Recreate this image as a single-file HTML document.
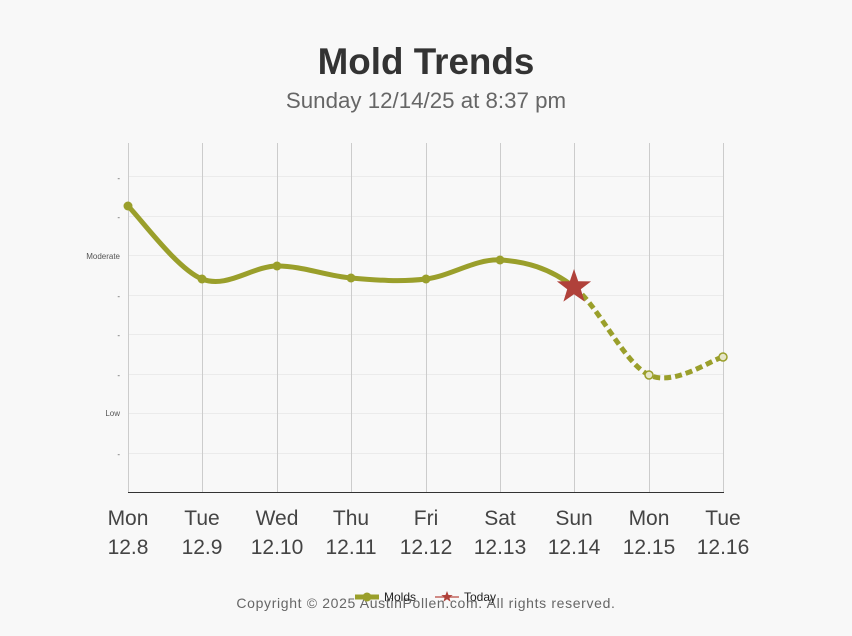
<!DOCTYPE html>
<html><head><meta charset="utf-8"><style>
html,body{margin:0;padding:0;background:#f8f8f8;}
body{width:852px;height:636px;overflow:hidden;font-family:"Liberation Sans",sans-serif;}
</style></head><body>
<svg width="852" height="636" xmlns="http://www.w3.org/2000/svg" style="position:absolute;left:0;top:0">
<rect width="852" height="636" fill="#f8f8f8"/>
<text x="426" y="74" text-anchor="middle" font-family="Liberation Sans" font-weight="bold" font-size="36.8" fill="#333">Mold Trends</text>
<text x="426" y="108" text-anchor="middle" font-family="Liberation Sans" font-size="22.3" fill="#666">Sunday 12/14/25 at 8:37 pm</text>
<g stroke="#ebebeb" stroke-width="1">
<line x1="128" x2="723" y1="176.5" y2="176.5"/><line x1="128" x2="723" y1="216.5" y2="216.5"/>
<line x1="128" x2="723" y1="255.5" y2="255.5"/><line x1="128" x2="723" y1="295.5" y2="295.5"/>
<line x1="128" x2="723" y1="334.5" y2="334.5"/><line x1="128" x2="723" y1="374.5" y2="374.5"/>
<line x1="128" x2="723" y1="413.5" y2="413.5"/><line x1="128" x2="723" y1="453.5" y2="453.5"/>
</g>
<g stroke="#ccc" stroke-width="1">
<line x1="128.5" x2="128.5" y1="143" y2="492"/><line x1="202.5" x2="202.5" y1="143" y2="492"/>
<line x1="277.5" x2="277.5" y1="143" y2="492"/><line x1="351.5" x2="351.5" y1="143" y2="492"/>
<line x1="426.5" x2="426.5" y1="143" y2="492"/><line x1="500.5" x2="500.5" y1="143" y2="492"/>
<line x1="574.5" x2="574.5" y1="143" y2="492"/><line x1="649.5" x2="649.5" y1="143" y2="492"/>
<line x1="723.5" x2="723.5" y1="143" y2="492"/>
</g>
<line x1="128" x2="724" y1="492.5" y2="492.5" stroke="#333" stroke-width="1"/>
<g font-family="Liberation Sans" font-size="8" fill="#555" text-anchor="end">
<text x="120" y="181">-</text><text x="120" y="220">-</text><text x="120" y="259">Moderate</text>
<text x="120" y="299">-</text><text x="120" y="338">-</text><text x="120" y="378">-</text>
<text x="120" y="416">Low</text><text x="120" y="457">-</text>
</g>
<g font-family="Liberation Sans" font-size="21" fill="#444" text-anchor="middle">
<text x="128" y="525">Mon</text><text x="128" y="554">12.8</text>
<text x="202" y="525">Tue</text><text x="202" y="554">12.9</text>
<text x="277" y="525">Wed</text><text x="277" y="554">12.10</text>
<text x="351" y="525">Thu</text><text x="351" y="554">12.11</text>
<text x="426" y="525">Fri</text><text x="426" y="554">12.12</text>
<text x="500" y="525">Sat</text><text x="500" y="554">12.13</text>
<text x="574" y="525">Sun</text><text x="574" y="554">12.14</text>
<text x="649" y="525">Mon</text><text x="649" y="554">12.15</text>
<text x="723" y="525">Tue</text><text x="723" y="554">12.16</text>
</g>
<path d="M128,206 C140.3,218.2 177.2,269 202,279 C226.8,289 252.2,266.2 277,266 C301.8,265.8 326.2,275.8 351,278 C375.8,280.2 401.2,282 426,279 C450.8,276 475.2,258.7 500,260 C524.8,261.3 549.2,267.8 574,287" fill="none" stroke="#9a9f2b" stroke-width="5" stroke-linecap="round"/>
<path d="M574,287 C598.8,306.2 624.2,363.3 649,375 C673.8,386.7 710.7,360 723,357" fill="none" stroke="#9a9f2b" stroke-width="5" stroke-dasharray="7,4"/>
<g fill="#9a9f2b">
<circle cx="128" cy="206" r="4.5"/><circle cx="202" cy="279" r="4.5"/><circle cx="277" cy="266" r="4.5"/>
<circle cx="351" cy="278" r="4.5"/><circle cx="426" cy="279" r="4.5"/><circle cx="500" cy="260" r="4.5"/>
</g>
<circle cx="649" cy="375" r="4" fill="#e6e6c8" stroke="#9a9f2b" stroke-width="1.5"/>
<circle cx="723" cy="357" r="4" fill="#e6e6c8" stroke="#9a9f2b" stroke-width="1.5"/>
<polygon points="574,269 578.2,281.2 591.1,281.4 580.8,289.2 584.6,301.6 574,294.2 563.4,301.6 567.2,289.2 556.9,281.4 569.8,281.2" fill="#b0413a"/>
<text x="426" y="608" text-anchor="middle" font-family="Liberation Sans" font-size="14" fill="#666" letter-spacing="0.65">Copyright © 2025 AustinPollen.com.  All rights reserved.</text>
<line x1="355" x2="379" y1="597" y2="597" stroke="#9a9f2b" stroke-width="5"/>
<circle cx="367" cy="597" r="4.5" fill="#9a9f2b"/>
<text x="384" y="601" font-family="Liberation Sans" font-size="12" fill="#222">Molds</text>
<line x1="435" x2="459" y1="597" y2="597" stroke="#d08a85" stroke-width="2"/>
<polygon points="447,591 448.5,595 452.7,595.1 449.4,597.7 450.6,601.8 447,599.3 443.4,601.8 444.6,597.7 441.3,595.1 445.5,595" fill="#b0413a"/>
<text x="464" y="601" font-family="Liberation Sans" font-size="12" fill="#222">Today</text>
</svg>
</body></html>
